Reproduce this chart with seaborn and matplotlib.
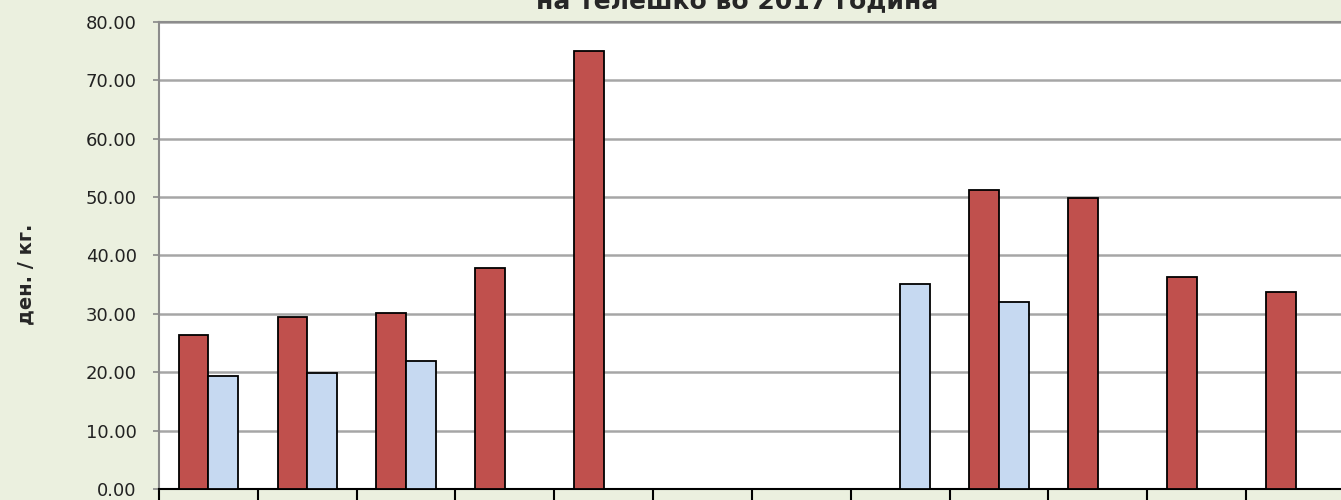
import numpy as np
import pandas as pd
import matplotlib
matplotlib.use("Agg")
import matplotlib.pyplot as plt
import seaborn as sns

# Data
months = ["јан", "фев", "мар", "апр", "мај", "јун", "јул", "авг", "сеп", "окт", "ное", "дек"]
series_a = [26.3, 29.4, 30.1, 37.9, 75.0, np.nan, np.nan, np.nan, 51.2, 49.9, 36.4, 33.8]
series_b = [19.4, 19.9, 21.9, np.nan, np.nan, np.nan, np.nan, 35.1, 32.0, np.nan, np.nan, np.nan]
series_names = ["серија 1", "серија 2"]
y_ticks = [0, 10, 20, 30, 40, 50, 60, 70, 80]

df = pd.DataFrame({
    "месец": months * 2,
    "цена": series_a + series_b,
    "серија": [series_names[0]] * len(months) + [series_names[1]] * len(months),
})

sns.set_style("white")
plt.rcParams["font.family"] = ["DejaVu Sans"]

bg = "#EBF0DF"
fig = plt.figure(figsize=(13.41, 5.0), dpi=100, facecolor=bg)
ax = fig.add_axes([159 / 1341, 11 / 500, 1186 / 1341, 467 / 500])
ax.set_facecolor("white")

sns.barplot(data=df, x="месец", y="цена", hue="серија", order=months,
            hue_order=series_names, palette=["#C0504D", "#C6D9F1"],
            saturation=1, width=0.6, errorbar=None, edgecolor="black",
            linewidth=1.3, legend=False, ax=ax, zorder=3)

ax.set_xlim(-0.5, len(months) - 0.5)
ax.set_ylim(0, 80)
ax.set_yticks(y_ticks)
ax.set_yticklabels([f"{v:.2f}" for v in y_ticks], fontsize=13, color="#222222")
ax.yaxis.grid(True, color="#A6A6A6", linewidth=1.8, zorder=0)
ax.set_axisbelow(True)

# category dividers below the axis, like Excel tick marks
ax.set_xticks(np.arange(-0.5, len(months), 1.0), minor=True)
ax.set_xticks(range(len(months)))
ax.set_xticklabels([])
ax.tick_params(axis="x", which="major", length=0, bottom=True)
ax.tick_params(axis="x", which="minor", length=14, width=1.5, color="black",
               direction="out", bottom=True)
ax.tick_params(axis="y", which="major", length=4, width=1.2, color="#888888",
               pad=12, left=True)

ax.set_xlabel("")
ax.set_ylabel("ден. / кг.", fontsize=14, fontweight="bold")
ax.yaxis.set_label_coords(-0.104, 0.46)

for side in ["left", "top", "right"]:
    ax.spines[side].set_color("#8C8C8C")
    ax.spines[side].set_linewidth(1.5)
ax.spines["bottom"].set_color("black")
ax.spines["bottom"].set_linewidth(1.5)

fig.text(737 / 1341, 1 - 8 / 500, "на телешко во 2017 година",
         ha="center", va="baseline", fontsize=18, fontweight="bold")

fig.savefig("out.png", dpi=100, facecolor=bg)
